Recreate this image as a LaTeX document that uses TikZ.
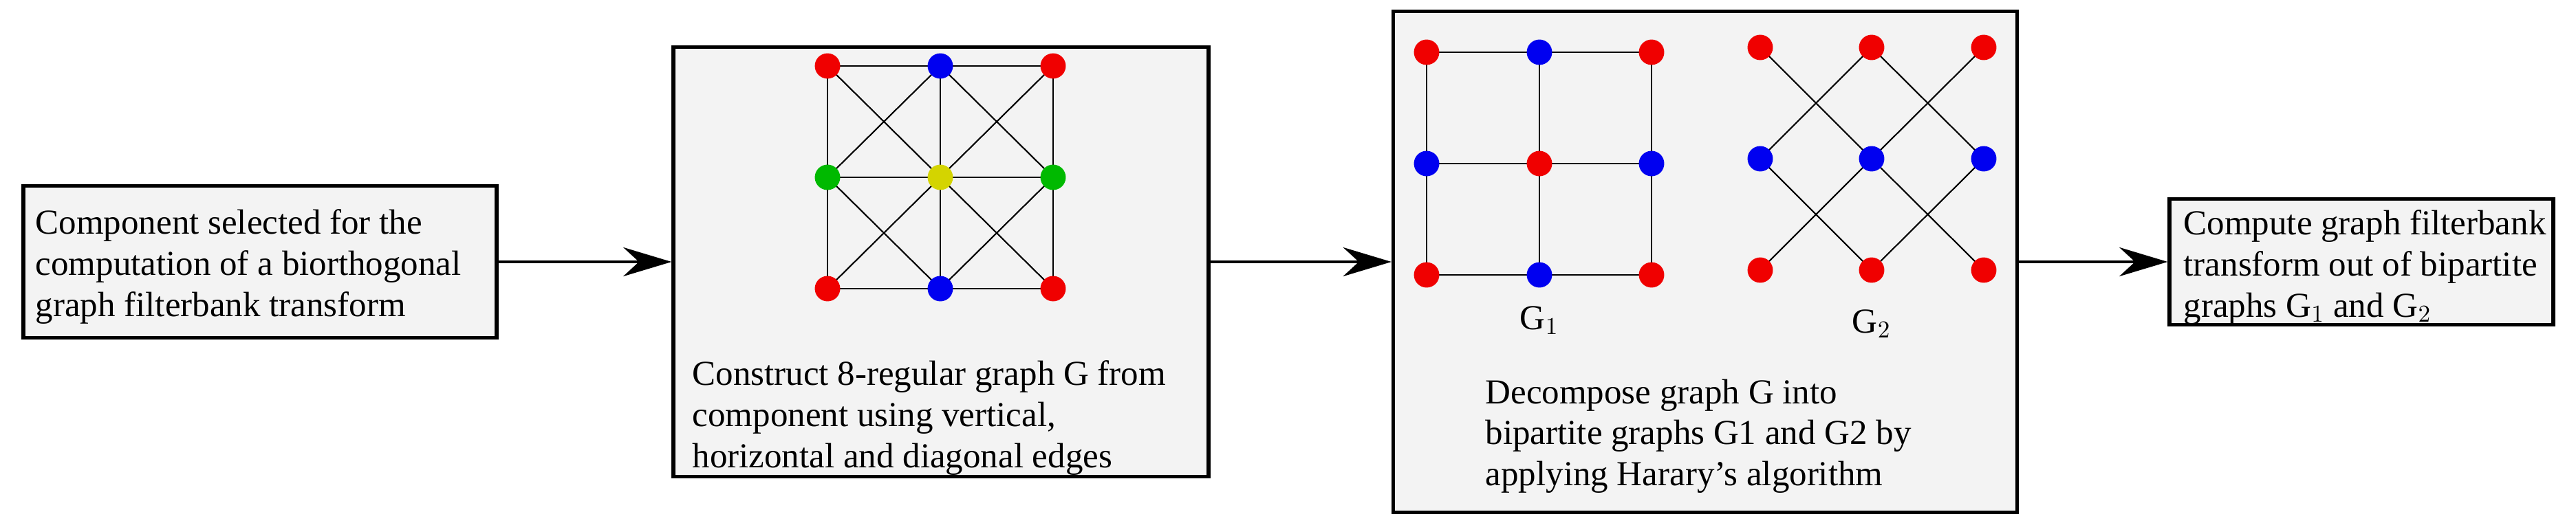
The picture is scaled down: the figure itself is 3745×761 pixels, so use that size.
\documentclass[tikz,border=0pt]{standalone}
\usepackage{fontspec}
\setmainfont{Liberation Serif}
\usetikzlibrary{arrows.meta}
\definecolor{vred}{RGB}{240,0,0}
\definecolor{vblue}{RGB}{0,0,240}
\definecolor{vgreen}{RGB}{0,185,0}
\definecolor{vyellow}{RGB}{212,212,0}
\definecolor{boxgray}{RGB}{243,243,243}
\tikzset{
  box/.style={draw, line width=1.5pt, fill=boxgray, inner sep=0pt},
  txt/.style={align=left, anchor=north west, inner sep=0pt, font=\fontsize{14.5}{17}\selectfont},
  vtx/.style={circle, inner sep=0pt, minimum size=10.5pt},
  edge/.style={line width=0.6pt},
  flow/.style={line width=0.9pt, -{Stealth[length=20pt,width=12pt]}}
}
\begin{document}
\begin{tikzpicture}[x=0.01cm, y=-0.01cm]
\useasboundingbox (0,0) rectangle (3745,761);
% blocks
\node[box, minimum width=688*0.01cm, minimum height=221*0.01cm] (comp) at (378,381) {};
\node[box, minimum width=778*0.01cm, minimum height=625*0.01cm] (construct) at (1368,381) {};
\node[box, minimum width=907*0.01cm, minimum height=729*0.01cm] (decomp) at (2479,381) {};
\node[box, minimum width=558*0.01cm, minimum height=183*0.01cm] (compute) at (3433,381) {};
\node[txt] (comptext) at (51,304) {Component selected for the\\computation of a biorthogonal\\graph filterbank transform};
\node[txt] (consttext) at (1006,524) {Construct 8-regular graph G from\\component using vertical,\\horizontal and diagonal edges};
\node[txt] (decomptext) at (2159,551) {Decompose graph G into\\bipartite graphs G1 and G2 by\\applying Harary's algorithm};
\node[txt] (computetext) at (3174,305) {Compute graph filterbank\\transform out of bipartite\\graphs G$_1$ and G$_2$};
% graph G
\foreach \c/\x in {1/1203,2/1367,3/1531}
  \foreach \r/\y in {1/96,2/258,3/420}
    \coordinate (g\r\c) at (\x,\y);
\foreach \r in {1,2,3} \draw[edge] (g\r1) -- (g\r3);
\foreach \c in {1,2,3} \draw[edge] (g1\c) -- (g3\c);
\foreach \a/\b in {11/22,22/33,13/22,22/31,12/23,23/32,32/21,21/12}
  \draw[edge] (g\a) -- (g\b);
\foreach \n/\col in {11/vred,12/vblue,13/vred,21/vgreen,22/vyellow,23/vgreen,31/vred,32/vblue,33/vred}
  \node[vtx, fill=\col] (G\n) at (g\n) {};
% graph G1
\foreach \c/\x in {1/2074,2/2238,3/2401}
  \foreach \r/\y in {1/76,2/238,3/400}
    \coordinate (p\r\c) at (\x,\y);
\foreach \r in {1,2,3} \draw[edge] (p\r1) -- (p\r3);
\foreach \c in {1,2,3} \draw[edge] (p1\c) -- (p3\c);
\foreach \n/\col in {11/vred,12/vblue,13/vred,21/vblue,22/vred,23/vblue,31/vred,32/vblue,33/vred}
  \node[vtx, fill=\col] (A\n) at (p\n) {};
\node[font=\fontsize{14.5}{17}\selectfont] (labA) at (2238,466) {G$_1$};
% graph G2
\foreach \c/\x in {1/2559,2/2721,3/2884}
  \foreach \r/\y in {1/69,2/231,3/393}
    \coordinate (q\r\c) at (\x,\y);
\foreach \a/\b in {11/22,22/33,13/22,22/31,12/23,23/32,32/21,21/12}
  \draw[edge] (q\a) -- (q\b);
\foreach \n/\col in {11/vred,12/vred,13/vred,21/vblue,22/vblue,23/vblue,31/vred,32/vred,33/vred}
  \node[vtx, fill=\col] (B\n) at (q\n) {};
\node[font=\fontsize{14.5}{17}\selectfont] (labB) at (2721,471) {G$_2$};
% flow
\draw[flow] (comp.east) -- (construct.west);
\draw[flow] (construct.east) -- (decomp.west);
\draw[flow] (decomp.east) -- (compute.west);
\end{tikzpicture}
\end{document}
